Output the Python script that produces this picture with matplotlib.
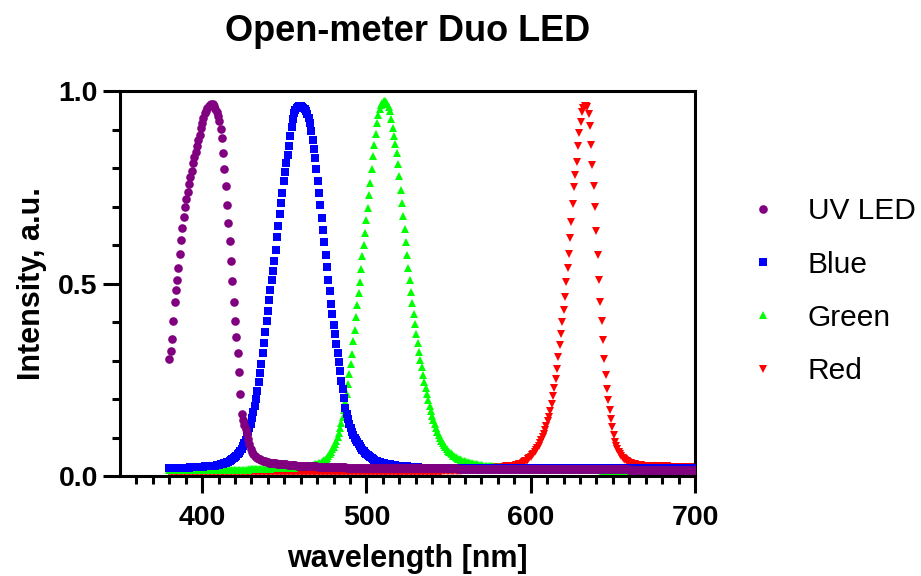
import numpy as np
import matplotlib.pyplot as plt
from matplotlib.ticker import FixedLocator, FormatStrFormatter

plt.rcParams['font.family'] = ['Liberation Sans', 'DejaVu Sans']

# spectrometer grid, 0.8 nm steps from 380 to 700 nm
wavelength = 380 + 0.8 * np.arange(401)

# intensities, one row = 10 points (8 nm)
uv_led = np.array([
    .305, .324, .355, .402, .452, .483, .510, .541, .577, .613,
    .643, .674, .698, .719, .738, .759, .776, .793, .812, .828,
    .841, .858, .872, .887, .903, .916, .929, .942, .949, .956,
    .961, .964, .966, .965, .960, .953, .945, .935, .922, .901,
    .877, .840, .798, .752, .705, .658, .610, .559, .506, .452,
    .402, .362, .320, .270, .214, .162, .145, .132, .121, .110,
    .096, .082, .071, .063, .057, .053, .050, .047, .045, .043,
    .041, .040, .039, .038, .037, .036, .035, .035, .034, .034,
    .033, .033, .032, .032, .031, .031, .031, .030, .030, .030,
    .029, .029, .029, .028, .028, .028, .028, .027, .027, .027,
    .027, .027, .026, .026, .026, .026, .026, .025, .025, .025,
    .025, .025, .025, .024, .024, .024, .024, .024, .024, .024,
    .023, .023, .023, .023, .023, .023, .023, .023, .023, .023,
    .023, .023, .023, .023, .023, .022, .022, .022, .022, .022,
    .022, .022, .022, .022, .022, .022, .022, .022, .022, .022,
    .022, .022, .022, .022, .022, .021, .021, .021, .021, .021,
    .021, .021, .021, .021, .021, .021, .021, .021, .021, .021,
    .021, .021, .021, .021, .021, .021, .021, .021, .021, .021,
    .020, .020, .020, .020, .020, .020, .020, .020, .020, .020,
    .020, .020, .020, .020, .020, .020, .020, .020, .020, .020,
    .020, .020, .020, .020, .020, .020, .020, .020, .020, .020,
    .020, .020, .020, .020, .020, .020, .020, .020, .020, .020,
    .019, .019, .019, .019, .019, .019, .019, .019, .019, .019,
    .019, .019, .019, .019, .019, .019, .019, .019, .019, .019,
    .019, .019, .019, .019, .019, .019, .019, .019, .019, .019,
    .019, .019, .019, .019, .019, .019, .019, .019, .019, .019,
    .018, .018, .018, .018, .018, .018, .018, .018, .018, .018,
    .018, .018, .018, .018, .018, .018, .018, .018, .018, .018,
    .018, .018, .018, .018, .018, .018, .018, .018, .018, .018,
    .018, .018, .018, .018, .018, .018, .018, .018, .018, .018,
    .017, .017, .017, .017, .017, .017, .017, .017, .017, .017,
    .017, .017, .017, .017, .017, .017, .017, .017, .017, .017,
    .017, .017, .017, .017, .017, .017, .017, .017, .017, .017,
    .017, .017, .017, .017, .017, .017, .017, .017, .017, .017,
    .017, .017, .017, .017, .017, .017, .017, .017, .017, .017,
    .016, .016, .016, .016, .016, .016, .016, .016, .016, .016,
    .016, .016, .016, .016, .016, .016, .016, .016, .016, .016,
    .016, .016, .016, .016, .016, .016, .016, .016, .016, .016,
    .016, .016, .016, .016, .016, .016, .016, .016, .016, .016,
    .016, .016, .016, .016, .016, .016, .016, .016, .016, .016,
    .016,
])

blue = np.array([
    .022, .022, .022, .022, .022, .022, .022, .022, .022, .022,
    .022, .022, .022, .022, .022, .022, .023, .023, .023, .023,
    .023, .023, .023, .024, .024, .024, .024, .025, .025, .025,
    .025, .026, .026, .026, .027, .027, .028, .028, .029, .030,
    .031, .032, .033, .034, .036, .037, .039, .041, .043, .046,
    .049, .052, .056, .060, .065, .071, .077, .085, .094, .104,
    .114, .124, .135, .150, .166, .183, .200, .222, .245, .268,
    .292, .320, .346, .374, .402, .428, .456, .482, .508, .533,
    .558, .588, .620, .650, .680, .708, .735, .765, .790, .812,
    .835, .858, .882, .906, .928, .942, .951, .956, .959, .960,
    .960, .959, .957, .954, .949, .941, .931, .918, .896, .874,
    .850, .826, .797, .766, .735, .703, .670, .640, .607, .575,
    .543, .510, .480, .448, .420, .393, .368, .344, .320, .296,
    .272, .248, .225, .203, .176, .160, .147, .135, .124, .114,
    .106, .099, .093, .088, .082, .077, .072, .068, .064, .060,
    .057, .054, .051, .049, .046, .044, .042, .040, .038, .037,
    .036, .035, .034, .033, .032, .031, .031, .030, .030, .029,
    .029, .028, .028, .027, .027, .027, .026, .026, .026, .025,
    .025, .025, .024, .024, .024, .024, .023, .023, .023, .023,
    .022, .022, .022, .022, .022, .022, .022, .021, .021, .021,
    .021, .021, .021, .021, .021, .021, .021, .021, .021, .021,
    .021, .021, .021, .021, .021, .021, .021, .021, .021, .021,
    .021, .021, .021, .021, .021, .021, .021, .021, .021, .021,
    .021, .021, .021, .021, .021, .021, .021, .021, .021, .021,
    .020, .020, .020, .020, .020, .020, .020, .020, .020, .020,
    .020, .020, .020, .020, .020, .020, .020, .020, .020, .020,
    .020, .020, .020, .020, .020, .020, .020, .020, .020, .020,
    .020, .020, .020, .020, .020, .020, .020, .020, .020, .020,
    .020, .020, .020, .020, .020, .020, .020, .020, .020, .020,
    .020, .020, .020, .020, .020, .020, .020, .020, .020, .020,
    .020, .020, .020, .020, .020, .020, .020, .020, .020, .020,
    .020, .020, .020, .020, .020, .020, .020, .020, .020, .020,
    .020, .020, .020, .020, .020, .020, .020, .020, .020, .020,
    .021, .021, .021, .021, .021, .021, .021, .021, .021, .021,
    .021, .021, .021, .021, .021, .021, .021, .021, .021, .021,
    .021, .021, .021, .021, .021, .021, .021, .021, .021, .021,
    .021, .021, .021, .021, .021, .021, .021, .021, .021, .021,
    .021, .021, .021, .021, .021, .021, .021, .021, .021, .021,
    .021, .021, .021, .021, .021, .021, .021, .021, .021, .021,
    .021, .021, .021, .021, .021, .021, .021, .021, .021, .021,
    .020,
])

green = np.array([
    .015, .015, .015, .015, .015, .015, .015, .015, .015, .015,
    .015, .015, .015, .015, .015, .015, .015, .015, .015, .015,
    .015, .015, .015, .015, .015, .015, .015, .015, .015, .015,
    .015, .015, .015, .015, .015, .015, .015, .015, .015, .015,
    .015, .015, .015, .015, .015, .015, .015, .015, .015, .015,
    .016, .016, .016, .016, .016, .016, .016, .016, .016, .016,
    .016, .017, .017, .017, .017, .017, .018, .018, .018, .018,
    .018, .018, .018, .019, .019, .019, .019, .019, .020, .020,
    .020, .020, .020, .020, .020, .021, .021, .021, .021, .021,
    .021, .021, .022, .022, .022, .022, .023, .023, .023, .023,
    .024, .024, .024, .025, .025, .026, .026, .027, .027, .028,
    .029, .030, .031, .032, .033, .035, .037, .039, .041, .044,
    .048, .052, .057, .063, .069, .076, .084, .092, .101, .112,
    .124, .138, .154, .172, .192, .214, .240, .266, .292, .318,
    .350, .380, .412, .445, .475, .505, .538, .572, .600, .631,
    .665, .697, .730, .762, .797, .830, .859, .889, .917, .937,
    .953, .964, .970, .974, .975, .971, .965, .958, .948, .927,
    .905, .884, .862, .838, .810, .778, .743, .709, .675, .641,
    .607, .574, .541, .509, .478, .449, .421, .395, .370, .346,
    .323, .302, .282, .263, .245, .228, .212, .197, .183, .170,
    .157, .145, .134, .124, .115, .107, .099, .092, .086, .080,
    .075, .070, .066, .062, .059, .056, .053, .051, .049, .047,
    .045, .043, .042, .040, .039, .038, .037, .036, .035, .034,
    .033, .032, .031, .031, .030, .029, .029, .028, .028, .027,
    .027, .026, .026, .026, .025, .025, .025, .024, .024, .024,
    .023, .023, .023, .022, .022, .022, .022, .021, .021, .021,
    .021, .020, .020, .020, .020, .019, .019, .019, .019, .018,
    .018, .018, .018, .018, .017, .017, .017, .017, .017, .017,
    .016, .016, .016, .016, .016, .016, .016, .016, .016, .016,
    .016, .016, .016, .016, .016, .016, .016, .016, .016, .016,
    .016, .016, .016, .016, .016, .016, .016, .016, .016, .016,
    .016, .016, .016, .016, .016, .016, .016, .016, .016, .016,
    .016, .016, .016, .016, .016, .016, .016, .016, .016, .016,
    .014, .014, .014, .014, .014, .014, .014, .014, .014, .014,
    .014, .014, .014, .014, .014, .014, .014, .014, .014, .014,
    .014, .014, .014, .014, .014, .014, .014, .014, .014, .014,
    .014, .014, .014, .014, .014, .014, .014, .014, .014, .014,
    .014, .014, .014, .014, .014, .014, .014, .014, .014, .014,
    .014, .014, .014, .014, .014, .014, .014, .014, .014, .014,
    .014, .014, .014, .014, .014, .014, .014, .014, .014, .014,
    .014,
])

red = np.array([
    .010, .010, .010, .010, .010, .010, .010, .010, .010, .010,
    .010, .010, .010, .010, .010, .010, .010, .010, .010, .010,
    .010, .010, .010, .010, .010, .010, .010, .010, .010, .010,
    .010, .010, .010, .010, .010, .010, .010, .010, .010, .010,
    .010, .010, .010, .010, .010, .010, .010, .010, .010, .010,
    .010, .010, .010, .010, .010, .010, .010, .010, .010, .010,
    .010, .010, .010, .010, .010, .010, .010, .010, .010, .010,
    .010, .010, .010, .010, .010, .010, .010, .010, .010, .010,
    .010, .010, .010, .010, .010, .010, .010, .010, .010, .010,
    .010, .010, .010, .010, .010, .010, .010, .010, .010, .010,
    .010, .010, .010, .010, .010, .010, .010, .010, .010, .010,
    .010, .010, .010, .010, .010, .010, .010, .010, .010, .010,
    .010, .010, .010, .010, .010, .010, .010, .010, .010, .010,
    .010, .010, .010, .010, .010, .010, .010, .010, .010, .010,
    .010, .010, .010, .010, .010, .010, .010, .010, .010, .010,
    .010, .010, .010, .010, .010, .010, .010, .010, .010, .010,
    .010, .010, .010, .010, .010, .010, .010, .010, .010, .010,
    .010, .010, .010, .010, .010, .010, .010, .010, .010, .010,
    .010, .010, .010, .010, .010, .010, .010, .010, .010, .010,
    .010, .010, .010, .010, .010, .010, .010, .010, .010, .010,
    .010, .010, .011, .011, .011, .011, .011, .011, .012, .012,
    .012, .012, .012, .012, .013, .013, .013, .013, .013, .014,
    .014, .014, .014, .015, .015, .015, .015, .016, .016, .016,
    .017, .017, .017, .018, .018, .018, .019, .019, .019, .020,
    .020, .020, .021, .021, .021, .022, .022, .022, .023, .023,
    .023, .023, .024, .024, .024, .024, .025, .025, .025, .025,
    .026, .026, .027, .027, .028, .029, .030, .031, .032, .034,
    .036, .038, .040, .043, .046, .050, .054, .058, .062, .067,
    .072, .078, .085, .093, .101, .110, .120, .131, .142, .154,
    .170, .188, .208, .228, .251, .277, .309, .339, .370, .400,
    .430, .466, .503, .540, .576, .618, .661, .707, .750, .783,
    .816, .856, .890, .919, .945, .957, .961, .962, .959, .940,
    .909, .859, .807, .754, .698, .637, .573, .510, .453, .402,
    .354, .305, .262, .227, .197, .171, .149, .128, .106, .089,
    .078, .070, .063, .057, .052, .048, .044, .041, .038, .036,
    .034, .033, .032, .031, .030, .029, .029, .028, .028, .028,
    .027, .027, .027, .027, .027, .026, .026, .026, .026, .026,
    .026, .026, .025, .025, .025, .025, .025, .025, .025, .025,
    .024, .024, .024, .024, .024, .024, .024, .024, .023, .023,
    .023, .023, .023, .023, .023, .023, .023, .023, .023, .023,
    .023,
])

fig = plt.figure(figsize=(9.21, 5.76), dpi=100)
ax = fig.add_axes([0.1303, 0.1736, 0.6243, 0.6684])

# red at the bottom, UV on top (as in the original)
h_red, = ax.plot(wavelength, red, 'v', color='#ff0000', ms=5.6, mew=0, label='Red', zorder=2)
h_green, = ax.plot(wavelength, green, '^', color='#00ff00', ms=5.6, mew=0, label='Green', zorder=3)
h_blue, = ax.plot(wavelength, blue, 's', color='#0000ff', ms=5.6, mew=0, label='Blue', zorder=4)
h_uv, = ax.plot(wavelength, uv_led, 'o', color='#800080', ms=6.2, mew=0, label='UV LED', zorder=5)

ax.set_xlim(350, 700)
ax.set_ylim(0, 1.0)

ax.xaxis.set_major_locator(FixedLocator([400, 500, 600, 700]))
ax.xaxis.set_minor_locator(FixedLocator([x for x in range(360, 700, 10) if x % 100]))
ax.yaxis.set_major_locator(FixedLocator([0.0, 0.5, 1.0]))
ax.yaxis.set_minor_locator(FixedLocator([0.1, 0.2, 0.3, 0.4, 0.6, 0.7, 0.8, 0.9]))
ax.yaxis.set_major_formatter(FormatStrFormatter('%.1f'))

for side in ['left', 'bottom', 'top', 'right']:
    ax.spines[side].set_linewidth(2.2)
ax.tick_params(which='major', direction='out', length=12, width=2.2, labelsize=20.5, pad=4)
ax.tick_params(axis='x', which='major', pad=9)
ax.tick_params(which='minor', direction='out', length=6, width=2.2)
for lab in ax.get_xticklabels() + ax.get_yticklabels():
    lab.set_fontweight('bold')

ax.set_xlabel('wavelength [nm]', fontsize=22, fontweight='bold', labelpad=9)
ax.set_ylabel('Intensity, a.u.', fontsize=22, fontweight='bold', labelpad=8)
fig.text(0.4425, 0.945, 'Open-meter Duo LED', ha='center', va='center',
         fontsize=26, fontweight='bold')

ax.legend(handles=[h_uv, h_blue, h_green, h_red], loc='center left',
          bbox_to_anchor=(1.092, 0.48), frameon=False, fontsize=21.5,
          handlelength=1.0, handletextpad=1.0, labelspacing=0.85,
          borderpad=0, borderaxespad=0, numpoints=1)

fig.savefig('out.png', dpi=100)
